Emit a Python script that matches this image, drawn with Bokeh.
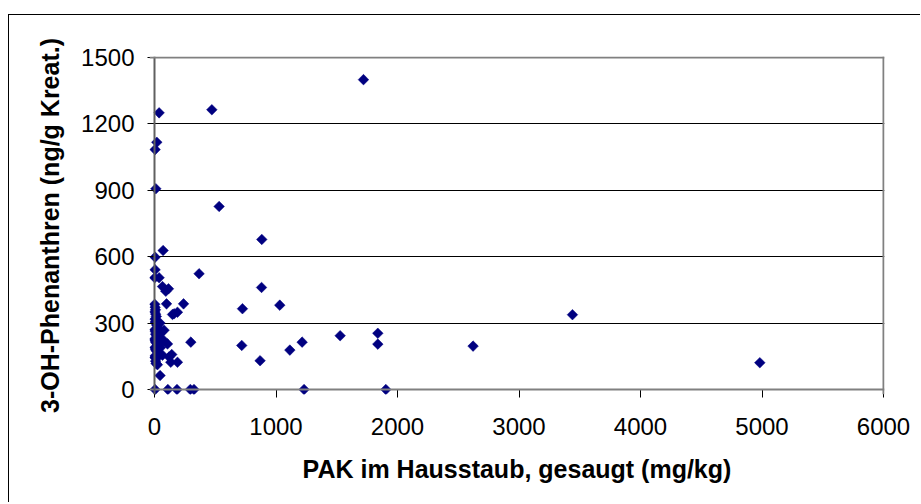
import math
from bokeh.plotting import figure
from bokeh.models import FixedTicker, Span, Range1d
from bokeh.embed import file_html
from bokeh.resources import INLINE

# ---- data ----
pak_dust = [
    1720, 38, 472, 19, 5, 11, 532, 883, 71, 5, 5, 2, 38, 367, 66, 115, 93, 99, 239,
    881, 1031, 724, 148, 189, 299, 718, 142, 189, 134, 46, 869, 1114, 1215, 1528,
    1838, 1838, 2622, 3440, 4982, 107, 79, 120, 66, 161,
    5, 110, 185, 295, 325, 1231, 1904,
    2, 5, 8, 3, 10, 15, 4, 6, 12, 20, 25, 3, 7, 9, 18, 30, 2, 5, 11, 22,
    35, 4, 8, 14, 28, 40, 6, 3, 16, 50, 60, 9, 13, 24, 70, 45,
]
oh_phen = [
    1400, 1250, 1264, 1117, 1084, 907, 827, 678, 628, 598, 541, 505, 505, 523, 465, 455, 444, 387, 387,
    461, 381, 365, 339, 349, 214, 199, 158, 123, 123, 63, 130, 178, 214, 243,
    254, 205, 196, 338, 121, 206, 268, 147, 155, 342,
    0, 0, 0, 0, 0, 0, 0,
    385, 372, 360, 350, 340, 330, 318, 305, 298, 290, 280, 270, 262, 250, 242, 235, 228, 220, 212, 205,
    198, 190, 182, 175, 168, 160, 152, 145, 140, 190, 260, 128, 118, 112, 225, 300,
]
x_ticks = [0, 1000, 2000, 3000, 4000, 5000, 6000]
y_ticks = [0, 300, 600, 900, 1200, 1500]
x_title = "PAK im Hausstaub, gesaugt (mg/kg)"
y_title = "3-OH-Phenanthren (ng/g Kreat.)"

FONT = "Liberation Sans"

# pixel scales
fw, fh = 735, 338
xpx = 0.1215
ypx = 0.2215

p = figure(
    frame_width=fw, frame_height=fh,
    x_range=Range1d(-5 / xpx, 6000 + 1 / xpx),
    y_range=Range1d(-5 / ypx, 1500 + 1 / ypx),
    output_backend="svg", toolbar_location=None,
    min_border_left=140, min_border_top=41, min_border_right=36, min_border_bottom=108,
    background_fill_color="white", border_fill_color="white",
)
p.styles = {"margin-top": "14px", "margin-left": "8px",
            "border-left": "1px solid black", "border-top": "1px solid black"}
p.outline_line_color = None

p.xaxis.ticker = FixedTicker(ticks=x_ticks)
p.yaxis.ticker = FixedTicker(ticks=y_ticks)
for ax in (p.xaxis, p.yaxis):
    ax.axis_line_color = None
    ax.major_tick_line_color = "black"
    ax.major_tick_line_width = 1
    ax.minor_tick_line_color = None
    ax.major_label_text_font = FONT
    ax.major_label_text_font_size = "24px"
    ax.major_label_text_color = "black"
    ax.axis_label_text_font = FONT
    ax.axis_label_text_font_size = "25px"
    ax.axis_label_text_font_style = "bold"
    ax.axis_label_text_color = "black"

p.xaxis.major_tick_in = 5
p.xaxis.major_tick_out = 3
p.xaxis.major_label_standoff = 20
p.xaxis.axis_label = x_title
p.xaxis.axis_label_standoff = 17

p.yaxis.major_tick_in = 5
p.yaxis.major_tick_out = 2
p.yaxis.major_label_standoff = 13
p.yaxis.axis_label = y_title
p.yaxis.axis_label_standoff = 14

p.xgrid.grid_line_color = None
p.ygrid.ticker = FixedTicker(ticks=y_ticks[1:-1])
p.ygrid.grid_line_color = "black"
p.ygrid.grid_line_width = 1

p.add_layout(Span(location=0, dimension="width", line_color="#808080", line_width=2))
p.add_layout(Span(location=0, dimension="height", line_color="#606060", line_width=2))
p.add_layout(Span(location=1500, dimension="width", line_color="#808080", line_width=2))
p.add_layout(Span(location=6000, dimension="height", line_color="#808080", line_width=2))

p.scatter(pak_dust, oh_phen, marker="square", angle=math.pi / 4, size=7.5,
          fill_color="#000080", line_color="#000080", line_width=0.5)

open("out.html", "w").write(file_html(p, INLINE))
